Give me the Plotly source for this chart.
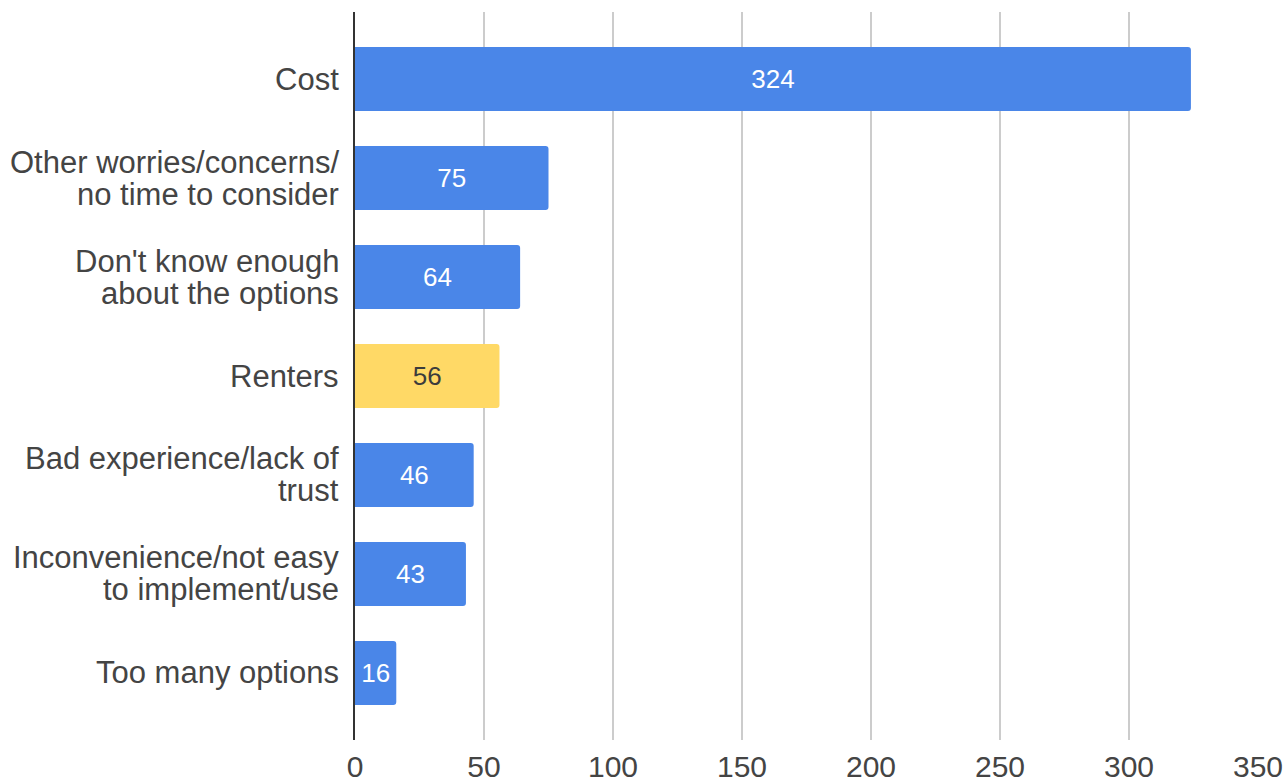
import plotly.graph_objects as go

categories = [
    "Cost",
    "Other worries/concerns/<br>no time to consider",
    "Don't know enough<br>about the options",
    "Renters",
    "Bad experience/lack of<br>trust",
    "Inconvenience/not easy<br>to implement/use",
    "Too many options",
]
values = [324, 75, 64, 56, 46, 43, 16]
bar_colors = ["#4a86e8", "#4a86e8", "#4a86e8", "#ffd966", "#4a86e8", "#4a86e8", "#4a86e8"]
text_colors = ["#ffffff", "#ffffff", "#ffffff", "#3c3c3c", "#ffffff", "#ffffff", "#ffffff"]
x_ticks = [0, 50, 100, 150, 200, 250, 300, 350]

FONT = "Liberation Sans, Arial, Helvetica, sans-serif"
LINE_GAP = 32

fig = go.Figure(
    go.Bar(
        y=categories,
        x=values,
        orientation="h",
        marker=dict(color=bar_colors, line=dict(width=0)),
        width=0.646,
        text=[str(v) for v in values],
        textposition="inside",
        insidetextanchor="middle",
        textangle=0,
        textfont=dict(family=FONT, size=26, color=text_colors),
        hoverinfo="skip",
    )
)

# category labels as right-aligned annotations (tighter line spacing than tick labels)
for cat in categories:
    lines = cat.split("<br>")
    n = len(lines)
    for i, line in enumerate(lines):
        offset = ((n - 1) / 2 - i) * LINE_GAP
        fig.add_annotation(
            xref="paper", x=0, xanchor="right", xshift=-14,
            yref="y", y=cat, yanchor="middle", yshift=offset,
            text=line, showarrow=False,
            font=dict(family=FONT, size=31, color="#444444"),
        )

fig.update_layout(
    width=1286,
    height=782,
    margin=dict(l=355, r=28, t=12, b=42),
    paper_bgcolor="white",
    plot_bgcolor="white",
    showlegend=False,
    barcornerradius=3,
    font=dict(family=FONT, color="#444444"),
)

fig.update_xaxes(
    range=[0, 350],
    tickvals=x_ticks,
    ticktext=[str(t) for t in x_ticks],
    showgrid=True,
    gridcolor="#cccccc",
    gridwidth=1.5,
    zeroline=False,
    showline=False,
    ticks="",
    tickfont=dict(family=FONT, size=30, color="#444444"),
    ticklabelstandoff=6,
    automargin=False,
)

fig.update_yaxes(
    categoryorder="array",
    categoryarray=categories,
    autorange=False,
    range=[6.677, -0.677],
    showgrid=False,
    zeroline=False,
    showline=True,
    linecolor="#333333",
    linewidth=2,
    ticks="",
    showticklabels=False,
    automargin=False,
)

fig.write_html(
    "out.html",
    config={"displayModeBar": False},
    post_script="document.body.style.margin='0px';document.body.style.overflow='hidden';",
)
